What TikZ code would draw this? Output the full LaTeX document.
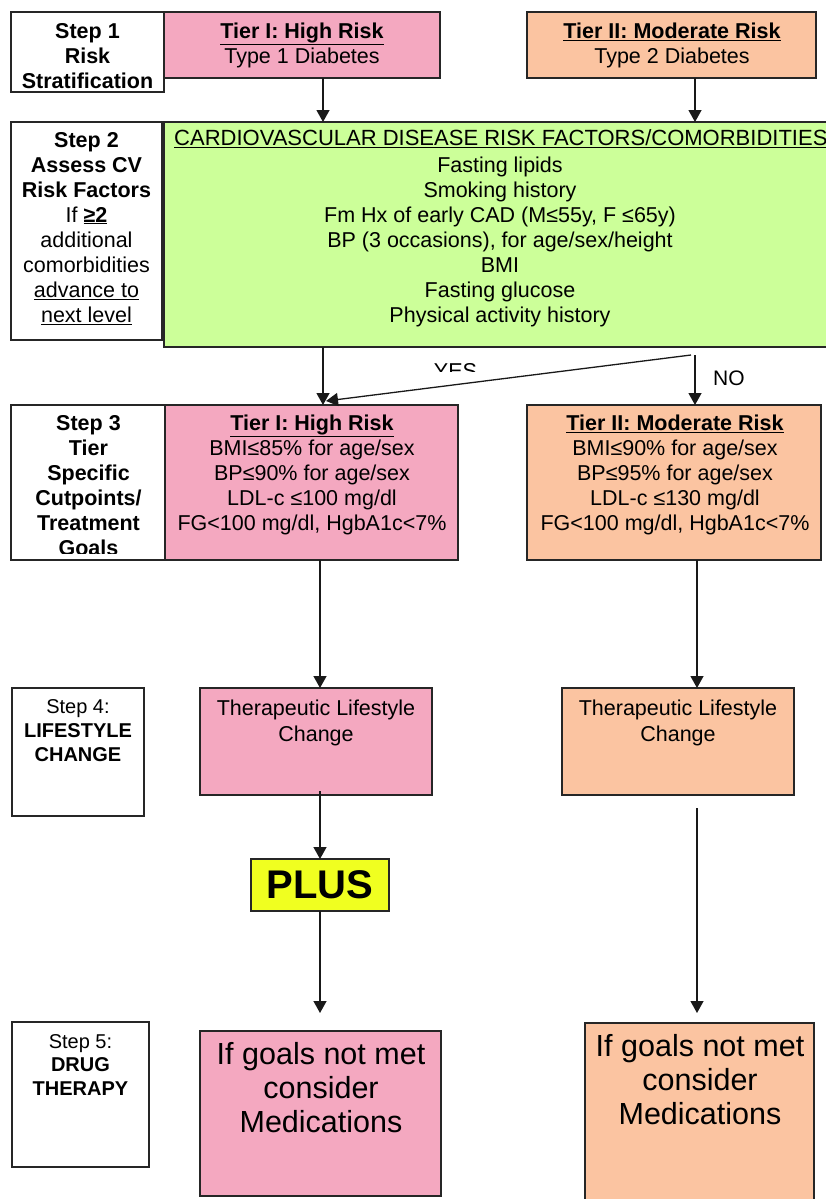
\documentclass[tikz,border=0pt]{standalone}
\usepackage{fontspec}
\setmainfont{Liberation Sans}
\usetikzlibrary{arrows.meta}
\definecolor{pinkT}{RGB}{244,168,192}
\definecolor{peachT}{RGB}{251,196,161}
\definecolor{greenT}{RGB}{204,255,153}
\definecolor{yellowT}{RGB}{240,255,32}
\newcommand\fa{\rule{0pt}{18pt}}
\newcommand\fb{\rule{0pt}{26pt}}
\begin{document}
\begin{tikzpicture}[x=1pt,y=-1pt,
 box/.style={draw=black!85, line width=1.3pt, anchor=north west, inner sep=0pt, outer sep=0pt},
 txt/.style={anchor=north, inner sep=0pt, align=center, font=\fontsize{21.5}{25}\selectfont},
 txtb/.style={anchor=north, inner sep=0pt, align=center, font=\fontsize{21.5}{26}\selectfont},
 lbl/.style={anchor=north, inner sep=0pt, align=center, font=\fontsize{20}{24}\selectfont},
 lblb/.style={anchor=north, inner sep=0pt, align=center, font=\fontsize{20}{23.5}\selectfont},
 big/.style={anchor=north, inner sep=0pt, align=center, font=\fontsize{30.5}{34}\selectfont},
 arr/.style={-{Triangle[length=12pt,width=13pt]}, line width=1.3pt, draw=black!90},
]
\useasboundingbox (0,0) rectangle (826,1199);

% ---------- boxes ----------
\node[box, fill=white, minimum width=153pt, minimum height=80pt] (s1) at (11,12) {};
\node[box, fill=pinkT, minimum width=276pt, minimum height=66pt] (t1a) at (164,12) {};
\node[box, fill=peachT, minimum width=289pt, minimum height=66pt] (t2a) at (527,12) {};

\node[box, fill=white, minimum width=151pt, minimum height=218pt] (s2) at (11,122) {};
\node[box, fill=greenT, minimum width=680pt, minimum height=225pt] (green) at (164,122) {};

\node[box, fill=white, minimum width=155pt, minimum height=155pt] (s3) at (11,405) {};
\node[box, fill=pinkT, minimum width=293pt, minimum height=155pt] (t1b) at (165,405) {};
\node[box, fill=peachT, minimum width=294pt, minimum height=155pt] (t2b) at (527,405) {};

\node[box, fill=white, minimum width=132pt, minimum height=128pt] (s4) at (12,688) {};
\node[box, fill=pinkT, minimum width=232pt, minimum height=107pt] (tlcL) at (200,688) {};
\node[box, fill=peachT, minimum width=232pt, minimum height=107pt] (tlcR) at (562,688) {};

\node[box, fill=yellowT, minimum width=138pt, minimum height=52pt, font=\fontsize{40}{44}\selectfont\bfseries] (plus) at (251,859) {PLUS};

\node[box, fill=white, minimum width=137pt, minimum height=145pt] (s5) at (12,1022) {};
\node[box, fill=pinkT, minimum width=241pt, minimum height=165pt] (medL) at (200,1031) {};
\node[box, fill=peachT, minimum width=229pt, minimum height=195pt] (medR) at (585,1023) {};

% ---------- texts ----------
\node[txt] (s1t) at (87.5,20) {\fa\textbf{Step 1}\\\textbf{Risk}\\\textbf{Stratification}};
\node[txt] (t1at) at (302,20) {\fa\underline{\textbf{Tier I: High Risk}}\\Type 1 Diabetes};
\node[txt] (t2at) at (672,20) {\fa\underline{\textbf{Tier II: Moderate Risk}}\\Type 2 Diabetes};

\node[txt] (s2t) at (86.5,129) {\fa\textbf{Step 2}\\\textbf{Assess CV}\\\textbf{Risk Factors}\\If \underline{\textbf{≥2}}\\additional\\comorbidities\\\underline{advance to}\\\underline{next level}};
\node[txt, anchor=north west, font=\fontsize{22}{25}\selectfont] (gh) at (174,127) {\fa\underline{CARDIOVASCULAR DISEASE RISK FACTORS/COMORBIDITIES}};
\node[txt] (gb) at (500,154) {\fa Fasting lipids\\Smoking history\\Fm Hx of early CAD (M≤55y, F ≤65y)\\BP (3 occasions), for age/sex/height\\BMI\\Fasting glucose\\Physical activity history};

\begin{scope}
\clip (11,405) rectangle (166,553);
\node[txt] (s3t) at (88.5,412) {\fa\textbf{Step 3}\\\textbf{Tier}\\\textbf{Specific}\\\textbf{Cutpoints/}\\\textbf{Treatment}\\\textbf{Goals}};
\end{scope}
\node[txt] (t1bt) at (312,412) {\fa\underline{\textbf{Tier I: High Risk}}\\BMI≤85\% for age/sex\\BP≤90\% for age/sex\\LDL-c ≤100 mg/dl\\FG<100 mg/dl, HgbA1c<7\%};
\node[txt] (t2bt) at (675,412) {\fa\underline{\textbf{Tier II: Moderate Risk}}\\BMI≤90\% for age/sex\\BP≤95\% for age/sex\\LDL-c ≤130 mg/dl\\FG<100 mg/dl, HgbA1c<7\%};

\node[lbl] (s4t) at (78,695) {\fa Step 4:\\\textbf{LIFESTYLE}\\\textbf{CHANGE}};
\node[txtb] (tlcLt) at (316,697) {\fa Therapeutic Lifestyle\\Change};
\node[txtb] (tlcRt) at (678,697) {\fa Therapeutic Lifestyle\\Change};

\node[lblb] (s5t) at (80.5,1030) {\fa Step 5:\\\textbf{DRUG}\\\textbf{THERAPY}};
\node[big] (medLt) at (321,1038) {\fb If goals not met\\consider\\Medications};
\node[big] (medRt) at (700,1030) {\fb If goals not met\\consider\\Medications};

\begin{scope}
\clip (420,355) rectangle (500,371);
\node[anchor=base, inner sep=0pt, font=\fontsize{21.5}{25}\selectfont] (yes) at (455.5,378.5) {YES};
\end{scope}
\node[anchor=base west, inner sep=0pt, font=\fontsize{21}{25}\selectfont] (no) at (713,385) {NO};

% ---------- connectors ----------
\coordinate (cA) at (323,0);
\coordinate (cB) at (695,0);
\coordinate (cL) at (320,0);
\coordinate (cR) at (697,0);
\draw[arr] (t1a.south -| cA) -- (green.north -| cA);
\draw[arr] (t2a.south -| cB) -- (green.north -| cB);
\draw[arr] (green.south -| cA) -- (t1b.north -| cA);
\coordinate (noS) at (695,355);
\coordinate (yesS) at (691,355);
\coordinate (yesE) at (326,401);
\draw[arr] (noS) -- (t2b.north -| noS);
\draw[arr] (yesS) -- (yesE);
\draw[arr] (t1b.south -| cL) -- (tlcL.north -| cL);
\draw[arr] (t2b.south -| cR) -- (tlcR.north -| cR);
\coordinate (pA) at (320,791);
\draw[arr] (pA) -- (plus.north -| pA);
\coordinate (mL) at (320,1013);
\draw[arr] (plus.south -| mL) -- (mL);
\coordinate (rS) at (697,808);
\coordinate (rE) at (697,1013);
\draw[arr] (rS) -- (rE);
\end{tikzpicture}
\end{document}
